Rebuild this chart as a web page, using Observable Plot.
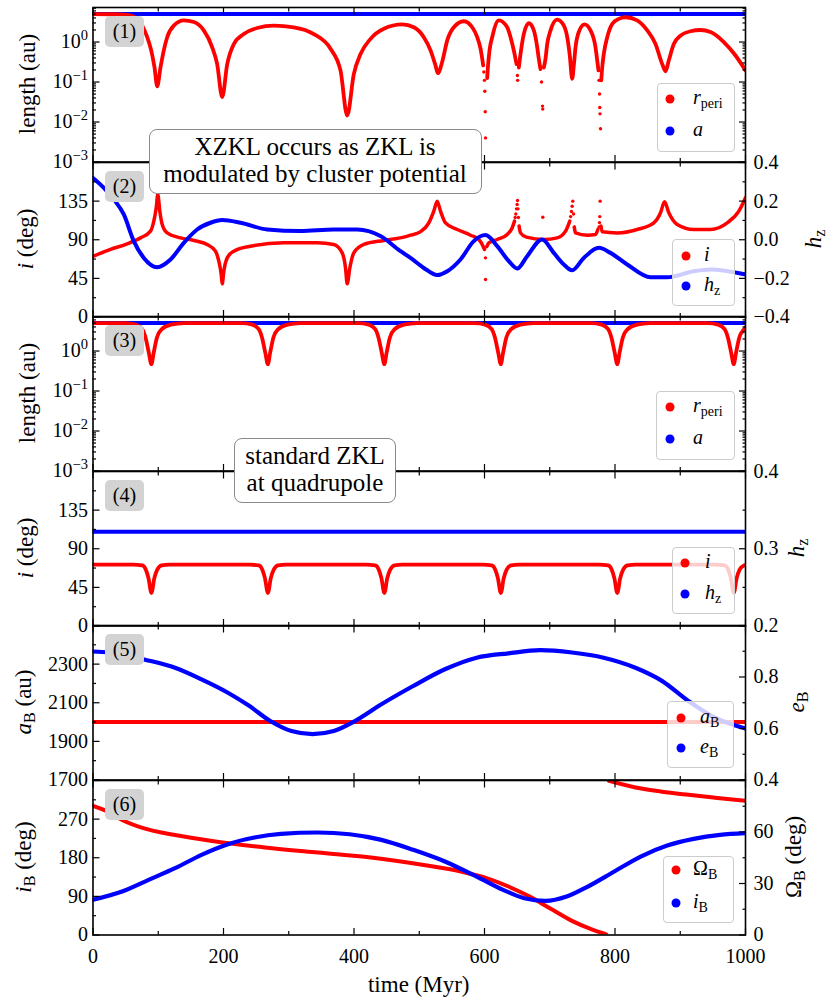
<!DOCTYPE html>
<html><head><meta charset="utf-8">
<script src="https://cdn.jsdelivr.net/npm/d3@7"></script>
<script src="https://cdn.jsdelivr.net/npm/@observablehq/plot@0.6"></script>
<style>
body{margin:0;background:#fff;overflow:hidden;font-family:"Liberation Serif",serif;}
#fig{position:relative;width:830px;height:1003px;font-family:"Liberation Serif",serif;color:#000;}
#fig svg{position:absolute;left:0;}
#fig svg text{font-family:"Liberation Serif",serif !important;}
#fig div{font-family:"Liberation Serif",serif;}
.lab{position:absolute;white-space:nowrap;font-size:23px;line-height:26px;transform:translate(-50%,-50%) rotate(-90deg);}
.xlab{position:absolute;white-space:nowrap;font-size:23px;line-height:26px;transform:translate(-50%,-50%);}
.leg{position:absolute;background:rgba(255,255,255,0.8);border:1.3px solid #cccccc;border-radius:4px;box-sizing:border-box;}
.legdot{position:absolute;width:9px;height:9px;border-radius:50%;transform:translate(-50%,-50%);}
.legtxt{position:absolute;font-size:20px;line-height:24px;white-space:nowrap;}
sub{font-size:70%;vertical-align:-0.25em;line-height:0;}
.tag{position:absolute;background:#d3d3d3;border-radius:5px;font-size:20px;line-height:31px;text-align:center;}
.note{position:absolute;background:#fff;border:1.8px solid #8a8a8a;border-radius:8px;box-sizing:border-box;}
.notetxt{position:absolute;font-size:25px;line-height:27px;text-align:center;white-space:nowrap;transform:translateX(-50%);}
</style></head><body><div id="fig"></div><script>
// ---------------- data (time in Myr) ----------------
// Panel 1: r_peri (au), continuous stretches and isolated samples near deep minima
const rPeri1Lines = [
 [[0,5.0],[30,4.95],[52.4,4.8],[67.7,3.8],[75.4,2.57],[83.1,1.32],[89.2,0.62],[94.3,0.23],[98.4,0.078],[103.4,0.23],[108.5,0.62],[113.7,1.32],[123.8,2.57],[139.2,3.47],[154.5,3.16],[169.8,1.95],[182.7,0.74],[190.3,0.28],[198,0.042],[205.7,0.28],[215.8,0.89],[231.1,1.58],[251.7,2.24],[277.1,2.57],[307.7,2.34],[338.4,1.58],[364,0.68],[379.3,0.195],[389.6,0.0145],[399.7,0.158],[410,0.5],[425.3,1.2],[445.7,2.14],[473.9,2.75],[491.7,2.34],[507,1.32],[517.3,0.62],[524.9,0.26],[528.4,0.166],[535.2,0.32],[542.9,1.10],[553,2.34],[568.3,3.31],[581.2,2.34],[588.8,1.32],[593.9,0.68],[596.5,0.38],[598,0.26]],
 [[604.1,0.126],[605,0.21],[607.7,0.62],[611.8,1.32],[621.9,3.47],[634.8,2.34],[639.9,1.32],[644.9,0.62],[649.1,0.28]],
 [[652.6,0.23],[655.2,0.5],[660.2,1.58],[667.9,2.95],[675.6,1.95],[680.8,0.74],[683.2,0.38],[685.8,0.21]],
 [[690.9,0.23],[693.5,0.38],[696.1,0.89],[701.2,1.95],[711.4,3.63],[721.6,2.57],[726.8,1.32],[730.7,0.46],[734.4,0.12],[736.9,0.26],[739.5,0.74],[744.5,1.78],[753.3,2.75],[762.5,1.95],[770.1,0.74],[772.7,0.35],[774.7,0.195]],
 [[778.9,0.11],[780.4,0.23],[782.8,0.5],[788.1,1.32],[795.7,2.82],[805.8,3.8],[816.1,4.17],[834,3.47],[849.4,1.95],[862.1,0.89],[872.4,0.28],[877.4,0.186],[882.5,0.35],[890.1,0.89],[900.4,1.45],[915.7,1.86],[931,2.0],[946.4,1.78],[966.8,1.0],[984.7,0.46],[1000,0.195]]
];
const rPeri1Dots = [[599,0.178],[600,0.11],[600.5,0.059],[601.1,0.018],[601.6,0.004],[650.4,0.145],[650.8,0.11],[687.4,0.1],[688.9,0.025],[689.3,0.021],[775.5,0.11],[776.3,0.05],[776.7,0.023],[777,0.016],[777.8,0.0068]];
const a1 = [[0,5.0],[1000,5.0]];

// Panel 2: i (deg) and h_z
const incl2Lines = [
 [[0,70.6],[26.8,78.7],[52.4,85.2],[72.8,92.2],[88.1,100],[93.2,111.7],[96.9,127.2],[99.3,142.8],[102.4,123.3],[106.1,107.8],[113.7,98],[134.1,92.2],[154.5,89.2],[175,84.5],[187.7,76.7],[192.8,65],[196.5,49.5],[198,38.6],[200.5,53.4],[205.7,68.9],[215.8,76.7],[241.4,82.5],[292.4,86.4],[343.6,86.4],[369,84.5],[381.9,74.7],[387,57.2],[389.6,38.6],[393.6,57.2],[399.7,74.7],[415,84.5],[445.7,89.2],[476.3,93],[486.6,95.3],[501.5,99.2],[514.7,109.7],[522.3,123.3],[527.5,135],[532.6,123.3],[540.2,109.7],[558.2,102],[578.6,95.3],[591.3,90.3],[596.5,84.5],[600,78.7]],
 [[603.5,82],[606.6,86.4],[619.5,90.3],[634.8,96.2],[642.5,104],[646,111.7]],
 [[653,106],[655.2,98],[664.2,93],[690.9,90.3],[711.4,92.2],[724.2,100],[730.7,111.7]],
 [[737.5,105],[739.5,98],[757.4,95.3],[770.1,96.2],[773.7,102]],
 [[778.5,106],[780.4,99.2],[803.4,98],[834,102],[859.5,109.7],[869.8,121.4],[875.9,134.2],[882.5,121.4],[895.3,107.8],[920.8,102],[946.4,102],[972,109.7],[989.8,123.3],[1000,139]]
];
const incl2Dots = [[601.5,68.9],[601.6,43.7],[647,116],[648,120],[649,126],[650,131],[650.6,135.8],[651.3,126],[652,116],[689.4,116.3],[732,117],[733.3,123],[734.3,129],[735.3,135],[736.5,120],[775.5,105],[776.2,110],[776.7,117],[777.2,135]];
const hz2 = [[0,0.32],[16.6,0.269],[31.9,0.209],[47.2,0.131],[62.5,-0.007],[77.9,-0.094],[98.4,-0.142],[118.8,-0.102],[139.2,-0.016],[159.7,0.053],[180.1,0.088],[198,0.102],[226.1,0.088],[267,0.053],[318,0.045],[369,0.053],[404.9,0.053],[440.6,0.019],[471.3,-0.059],[486.6,-0.094],[507,-0.146],[527.5,-0.183],[542.9,-0.163],[563.2,-0.102],[583.6,-0.007],[601.6,0.024],[619.5,-0.033],[637.3,-0.111],[650.1,-0.149],[665.4,-0.085],[688.4,0.0015],[706.2,-0.068],[721.6,-0.128],[734.4,-0.158],[752.2,-0.094],[775.2,-0.042],[793.1,-0.068],[818.7,-0.128],[854.4,-0.194],[880,-0.194],[920.8,-0.163],[946.4,-0.154],[1000,-0.18]];

// Panel 3: standard ZKL, r_peri (au)
const rPeri3 = [[0,5.0],[30,5.0],
 [49.5,5.0],[65.5,4.57],[75.5,3.55],[80.5,2.19],[85.5,0.91],[89.5,0.47],[93,0.91],[98,2.19],[105.5,3.55],[119.5,4.57],[139.5,5.0],
 [228,5.0],[244,4.57],[254,3.55],[259,2.19],[264,0.91],[268,0.47],[271.5,0.91],[276.5,2.19],[284,3.55],[298,4.57],[318,5.0],
 [406.5,5.0],[422.5,4.57],[432.5,3.55],[437.5,2.19],[442.5,0.91],[446.5,0.47],[450,0.91],[455,2.19],[462.5,3.55],[476.5,4.57],[496.5,5.0],
 [585,5.0],[601,4.57],[611,3.55],[616,2.19],[621,0.91],[625,0.47],[628.5,0.91],[633.5,2.19],[641,3.55],[655,4.57],[675,5.0],
 [763.5,5.0],[779.5,4.57],[789.5,3.55],[794.5,2.19],[799.5,0.91],[803.5,0.47],[807,0.91],[812,2.19],[819.5,3.55],[833.5,4.57],[853.5,5.0],
 [942,5.0],[958,4.57],[968,3.55],[973,2.19],[978,0.91],[982,0.47],[985.5,0.91],[990.5,2.19],[998,3.55],[1000,3.9]];
const a3 = [[0,5.0],[1000,5.0]];

// Panel 4: standard ZKL, i (deg) and h_z
const incl4 = [[0,71.5],
 [61.5,71.5],[75.5,70.6],[81,65.6],[85,55.8],[89.5,38.4],[94,55.8],[98.5,65.6],[105,70.6],[117.5,71.5],
 [240,71.5],[254,70.6],[259.5,65.6],[263.5,55.8],[268,38.4],[272.5,55.8],[277,65.6],[283.5,70.6],[296,71.5],
 [418.5,71.5],[432.5,70.6],[438,65.6],[442,55.8],[446.5,38.4],[451,55.8],[455.5,65.6],[462,70.6],[474.5,71.5],
 [597,71.5],[611,70.6],[616.5,65.6],[620.5,55.8],[625,38.4],[629.5,55.8],[634,65.6],[640.5,70.6],[653,71.5],
 [775.5,71.5],[789.5,70.6],[795,65.6],[799,55.8],[803.5,38.4],[808,55.8],[812.5,65.6],[819,70.6],[831.5,71.5],
 [954,71.5],[968,70.6],[973.5,65.6],[977.5,55.8],[982,38.4],[986.5,55.8],[991,65.6],[997.5,70.6],[1000,71]];
const hz4 = [[0,0.322],[1000,0.322]];

// Panel 5: a_B (au), e_B
const aB5 = [[0,2000],[1000,2000]];
const eB5 = [[0,0.899],[44.6,0.889],[77,0.869],[125.7,0.836],[166.3,0.791],[206.8,0.739],[239.3,0.688],[271.7,0.629],[304.1,0.59],[336.6,0.578],[369,0.59],[401.5,0.629],[442,0.694],[490.7,0.765],[539.3,0.83],[588,0.875],[636.7,0.892],[685.3,0.904],[734,0.895],[782.6,0.875],[831.3,0.836],[871.9,0.785],[912.4,0.707],[953,0.642],[1000,0.6]];

// Panel 6: Omega_B (deg, wraps at 0/360), i_B (deg)
const omegaB6Lines = [
 [[0,301],[20.3,289],[44.6,268],[77,249],[125.7,233],[182.5,219],[263.6,204],[344.7,192],[425.8,180.5],[506.9,163],[563.7,148],[604.2,132],[636.7,113],[669.1,89.5],[701.5,61],[734,33],[766.4,12],[786.7,1.6]],
 [[790.8,359],[831.3,343.7],[871.9,334],[912.4,326.7],[953,320],[1000,312.6]]
];
const incB6 = [[0,20.5],[44.6,25.3],[85.2,32.1],[125.7,38.9],[166.3,46.7],[206.8,52.9],[247.4,56.8],[287.9,58.9],[344.7,59.7],[393.3,58.7],[442,55.4],[490.7,49.6],[539.3,42.8],[588,34],[628.5,26.3],[661,21.4],[693.4,19.9],[725.9,22.4],[758.3,28.2],[798.9,37],[839.4,45.7],[880,52.1],[920.5,56],[961,58.3],[1000,59.3]];

// ticks
const xMajor = [0,200,400,600,800,1000];
const xMinor = [100,300,500,700,900];
const logMajor = [0.001,0.01,0.1,1];
const logLabels = ["10^−3","10^−2","10^−1","10^0"];
const logMinor = [];
for (const dec of [0.001,0.01,0.1,1]) for (let k=2;k<=9;k++){ const v=+(k*dec).toPrecision(3); if (v<7.3) logMinor.push(v); }
const degMajor = [0,45,90,135,180], degMinor=[22.5,67.5,112.5,157.5], degLabels=[0,45,90,135];
const hz2Ticks = [-0.4,-0.2,0,0.2,0.4], hz2Labels=["−0.4","−0.2","0.0","0.2","0.4"], hz2Minor=[-0.3,-0.1,0.1,0.3];
const hz4Ticks = [0.2,0.3,0.4], hz4Labels=["0.2","0.3","0.4"], hz4Minor=[0.25,0.35];
const aBMajor=[1700,1900,2100,2300,2500], aBMinor=[1800,2000,2200,2400], aBLabels=[1700,1900,2100,2300];
const eBTicks=[0.4,0.6,0.8,1.0], eBLabelVals=[0.4,0.6,0.8], eBLabels=["0.4","0.6","0.8"], eBMinor=[0.5,0.7,0.9];
const ibMajor=[0,90,180,270,360], ibMinor=[45,135,225,315], ibLabels=[0,90,180,270];
const omTicks=[0,30,60,90], omLabelVals=[0,30,60], omLabels=["0","30","60"], omMinor=[15,45,75];

// ---------------- layout ----------------
const W=830, ML=92.5, MR=85, PH=154.5;
const TOPS=[7,161.5,316,470.5,625,779.5];
const FONT='Liberation Serif, serif';
const fig=document.getElementById("fig");
const NS="http://www.w3.org/2000/svg";
const rows=segs=>segs.flatMap((s,k)=>s.map(([t,v])=>({t,v,s:k})));
const pts=a=>a.map(([t,v])=>({t,v}));
const RED="#ff0000", BLUE="#0000ff";

function xAxes(labels){
  const m=[
    Plot.axisX(xMajor,{anchor:"bottom",tickSize:-6.5,fill:"none",strokeWidth:1.2}),
    Plot.axisX(xMinor,{anchor:"bottom",tickSize:-3.5,fill:"none",strokeWidth:1.2}),
    Plot.axisX(xMajor,{anchor:"top",tickSize:-6.5,fill:"none",strokeWidth:1.2}),
    Plot.axisX(xMinor,{anchor:"top",tickSize:-3.5,fill:"none",strokeWidth:1.2})];
  if(labels) m.push(Plot.axisX(xMajor,{anchor:"bottom",tickSize:0,tickPadding:14,tickFormat:d=>String(d),label:null}));
  return m;
}
function yTicks(anchor,major,minor){
  return [Plot.axisY(major,{anchor,tickSize:-7,fill:"none",strokeWidth:1.2}),
          Plot.axisY(minor,{anchor,tickSize:-3.5,fill:"none",strokeWidth:1.2})];
}
function yLabels(anchor,vals,labels){
  const m=new Map(vals.map((v,i)=>[v,labels[i]]));
  return Plot.axisY(vals,{anchor,tickSize:0,tickPadding:anchor==="left"?5:8,tickFormat:d=>String(m.get(d)),label:null});
}
function makePanel(i,y,marks,last){
  const mt=i===0?7:15, mb=last?68:15;
  const svg=Plot.plot({
    width:W,height:PH+mt+mb,marginLeft:ML,marginRight:MR,marginTop:mt,marginBottom:mb,
    x:{domain:[0,1000],axis:null},
    y:{...y,axis:null},
    style:{background:"transparent",overflow:"visible",fontFamily:FONT,fontSize:"20px",color:"black"},
    marks:[...marks,Plot.frame({stroke:"black",strokeWidth:1.6}),...xAxes(last)]
  });
  svg.setAttribute("font-family",FONT);
  svg.style.fontFamily=FONT;
  svg.style.top=(TOPS[i]-mt)+"px";
  fig.appendChild(svg);
  return svg;
}
function supify(svg){
  svg.querySelectorAll("text").forEach(t=>{
    const m=t.textContent.match(/^10\^(.+)$/);
    if(!m) return;
    t.textContent="";
    const a=document.createElementNS(NS,"tspan"); a.textContent="10"; t.appendChild(a);
    const b=document.createElementNS(NS,"tspan"); b.textContent=m[1]; b.setAttribute("font-size","14.5"); b.setAttribute("dy","-0.56em"); t.appendChild(b);
  });
}

// Panel 1
const logY={type:"log",domain:[0.001,7.3]};
supify(makePanel(0,logY,[
  Plot.line(pts(a1),{x:"t",y:"v",stroke:BLUE,strokeWidth:4,clip:true}),
  Plot.line(rows(rPeri1Lines),{x:"t",y:"v",z:"s",stroke:RED,strokeWidth:3.8,curve:"monotone-x",clip:true}),
  Plot.dot(pts(rPeri1Dots),{x:"t",y:"v",r:1.7,fill:RED,clip:true}),
  ...yTicks("left",logMajor,logMinor),...yTicks("right",logMajor,logMinor),
  yLabels("left",logMajor,logLabels)
]));

// Panel 2
const hz2ToDeg=h=>(h+0.4)/0.8*180;
makePanel(1,{domain:[0,180]},[
  Plot.line(rows(incl2Lines),{x:"t",y:"v",z:"s",stroke:RED,strokeWidth:3.5,curve:"monotone-x",clip:true}),
  Plot.dot(pts(incl2Dots),{x:"t",y:"v",r:1.7,fill:RED,clip:true}),
  Plot.line(pts(hz2),{x:"t",y:d=>hz2ToDeg(d.v),stroke:BLUE,strokeWidth:4,curve:"monotone-x",clip:true}),
  ...yTicks("left",degMajor,degMinor),
  ...yTicks("right",hz2Ticks.map(hz2ToDeg),hz2Minor.map(hz2ToDeg)),
  yLabels("left",degLabels,degLabels),
  yLabels("right",hz2Ticks.map(hz2ToDeg),hz2Labels)
]);

// Panel 3
supify(makePanel(2,logY,[
  Plot.line(pts(a3),{x:"t",y:"v",stroke:BLUE,strokeWidth:4,clip:true}),
  Plot.line(pts(rPeri3),{x:"t",y:"v",stroke:RED,strokeWidth:3.8,curve:"monotone-x",clip:true}),
  ...yTicks("left",logMajor,logMinor),...yTicks("right",logMajor,logMinor),
  yLabels("left",logMajor,logLabels)
]));

// Panel 4
const hz4ToDeg=h=>(h-0.2)/0.2*180;
makePanel(3,{domain:[0,180]},[
  Plot.line(pts(incl4),{x:"t",y:"v",stroke:RED,strokeWidth:3.8,curve:"monotone-x",clip:true}),
  Plot.line(pts(hz4),{x:"t",y:d=>hz4ToDeg(d.v),stroke:BLUE,strokeWidth:4,clip:true}),
  ...yTicks("left",degMajor,degMinor),
  ...yTicks("right",hz4Ticks.map(hz4ToDeg),hz4Minor.map(hz4ToDeg)),
  yLabels("left",degLabels,degLabels),
  yLabels("right",hz4Ticks.map(hz4ToDeg),hz4Labels)
]);

// Panel 5
const eToAu=e=>1700+(e-0.4)/0.6*800;
makePanel(4,{domain:[1700,2500]},[
  Plot.line(pts(aB5),{x:"t",y:"v",stroke:RED,strokeWidth:4,clip:true}),
  Plot.line(pts(eB5),{x:"t",y:d=>eToAu(d.v),stroke:BLUE,strokeWidth:4.2,curve:"monotone-x",clip:true}),
  ...yTicks("left",aBMajor,aBMinor),
  ...yTicks("right",eBTicks.map(eToAu),eBMinor.map(eToAu)),
  yLabels("left",aBLabels,aBLabels),
  yLabels("right",eBLabelVals.map(eToAu),eBLabels)
]);

// Panel 6
const omToLeft=v=>v*4;
makePanel(5,{domain:[0,360]},[
  Plot.line(rows(omegaB6Lines),{x:"t",y:"v",z:"s",stroke:RED,strokeWidth:4,curve:"monotone-x",clip:true}),
  Plot.line(pts(incB6),{x:"t",y:d=>omToLeft(d.v),stroke:BLUE,strokeWidth:4.2,curve:"monotone-x",clip:true}),
  ...yTicks("left",ibMajor,ibMinor),
  ...yTicks("right",omTicks.map(omToLeft),omMinor.map(omToLeft)),
  yLabels("left",ibLabels,ibLabels),
  yLabels("right",omLabelVals.map(omToLeft),omLabels)
],true);

// ---------------- overlays: labels, tags, legends, notes ----------------
function el(cls,css,html){const d=document.createElement("div");d.className=cls;d.style.fontFamily=FONT;Object.assign(d.style,css);if(html!==undefined)d.innerHTML=html;fig.appendChild(d);return d;}
const px=v=>v+"px";
const leftLabels=[[27.5,"length (au)"],[26,"<i>i</i> (deg)"],[28,"length (au)"],[26,"<i>i</i> (deg)"],[23.5,"<i>a</i><sub>B</sub> (au)"],[24,"<i>i</i><sub>B</sub> (deg)"]];
leftLabels.forEach(([x,h],i)=>el("lab",{left:px(x),top:px(TOPS[i]+PH/2)},h));
const rightLabels=[[1,814,"<i>h</i><sub>z</sub>"],[3,797,"<i>h</i><sub>z</sub>"],[4,797,"<i>e</i><sub>B</sub>"],[5,794,"Ω<sub>B</sub> (deg)"]];
rightLabels.forEach(([i,x,h])=>el("lab",{left:px(x),top:px(TOPS[i]+PH/2)},h));
el("xlab",{left:px((ML+W-MR)/2),top:px(985)},"time (Myr)");

TOPS.forEach((t,i)=>el("tag",{left:px(105),top:px(t+9),width:px(39),height:px(31)},`(${i+1})`));

const legends=[
 {box:[656.7,82.7,735,151.7],dx:670,tx:693,items:[[99,RED,"<i>r</i><sub>peri</sub>"],[130.7,BLUE,"<i>a</i>"]]},
 {box:[671.7,239,735,305.7],dx:686,tx:704,items:[[255.7,RED,"<i>i</i>"],[285.7,BLUE,"<i>h</i><sub>z</sub>"]]},
 {box:[656,390.7,735.4,460],dx:670.4,tx:693,items:[[407.3,RED,"<i>r</i><sub>peri</sub>"],[439.3,BLUE,"<i>a</i>"]]},
 {box:[672,547.3,735.4,614],dx:685.2,tx:705,items:[[563.3,RED,"<i>i</i>"],[594,BLUE,"<i>h</i><sub>z</sub>"]]},
 {box:[666.7,701,734.4,767.7],dx:681,tx:700,items:[[717.7,RED,"<i>a</i><sub>B</sub>"],[748.3,BLUE,"<i>e</i><sub>B</sub>"]]},
 {box:[663,855.7,734.4,923.3],dx:676,tx:693,items:[[870,RED,"Ω<sub>B</sub>"],[903.3,BLUE,"<i>i</i><sub>B</sub>"]]}
];
legends.forEach(L=>{
  const [x1,y1,x2,y2]=L.box;
  el("leg",{left:px(x1),top:px(y1),width:px(x2-x1),height:px(y2-y1)});
  L.items.forEach(([y,c,h])=>{
    el("legdot",{left:px(L.dx),top:px(y),background:c});
    el("legtxt",{left:px(L.tx),top:px(y-14)},h);
  });
});

el("note",{left:px(148.5),top:px(128.5),width:px(333),height:px(65)});
el("notetxt",{left:px(315),top:px(133)},"XZKL occurs as ZKL is<br>modulated by cluster potential");
el("note",{left:px(234),top:px(437.7),width:px(162),height:px(65.6)});
el("notetxt",{left:px(315),top:px(442)},"standard ZKL<br>at quadrupole");
</script></body></html>
